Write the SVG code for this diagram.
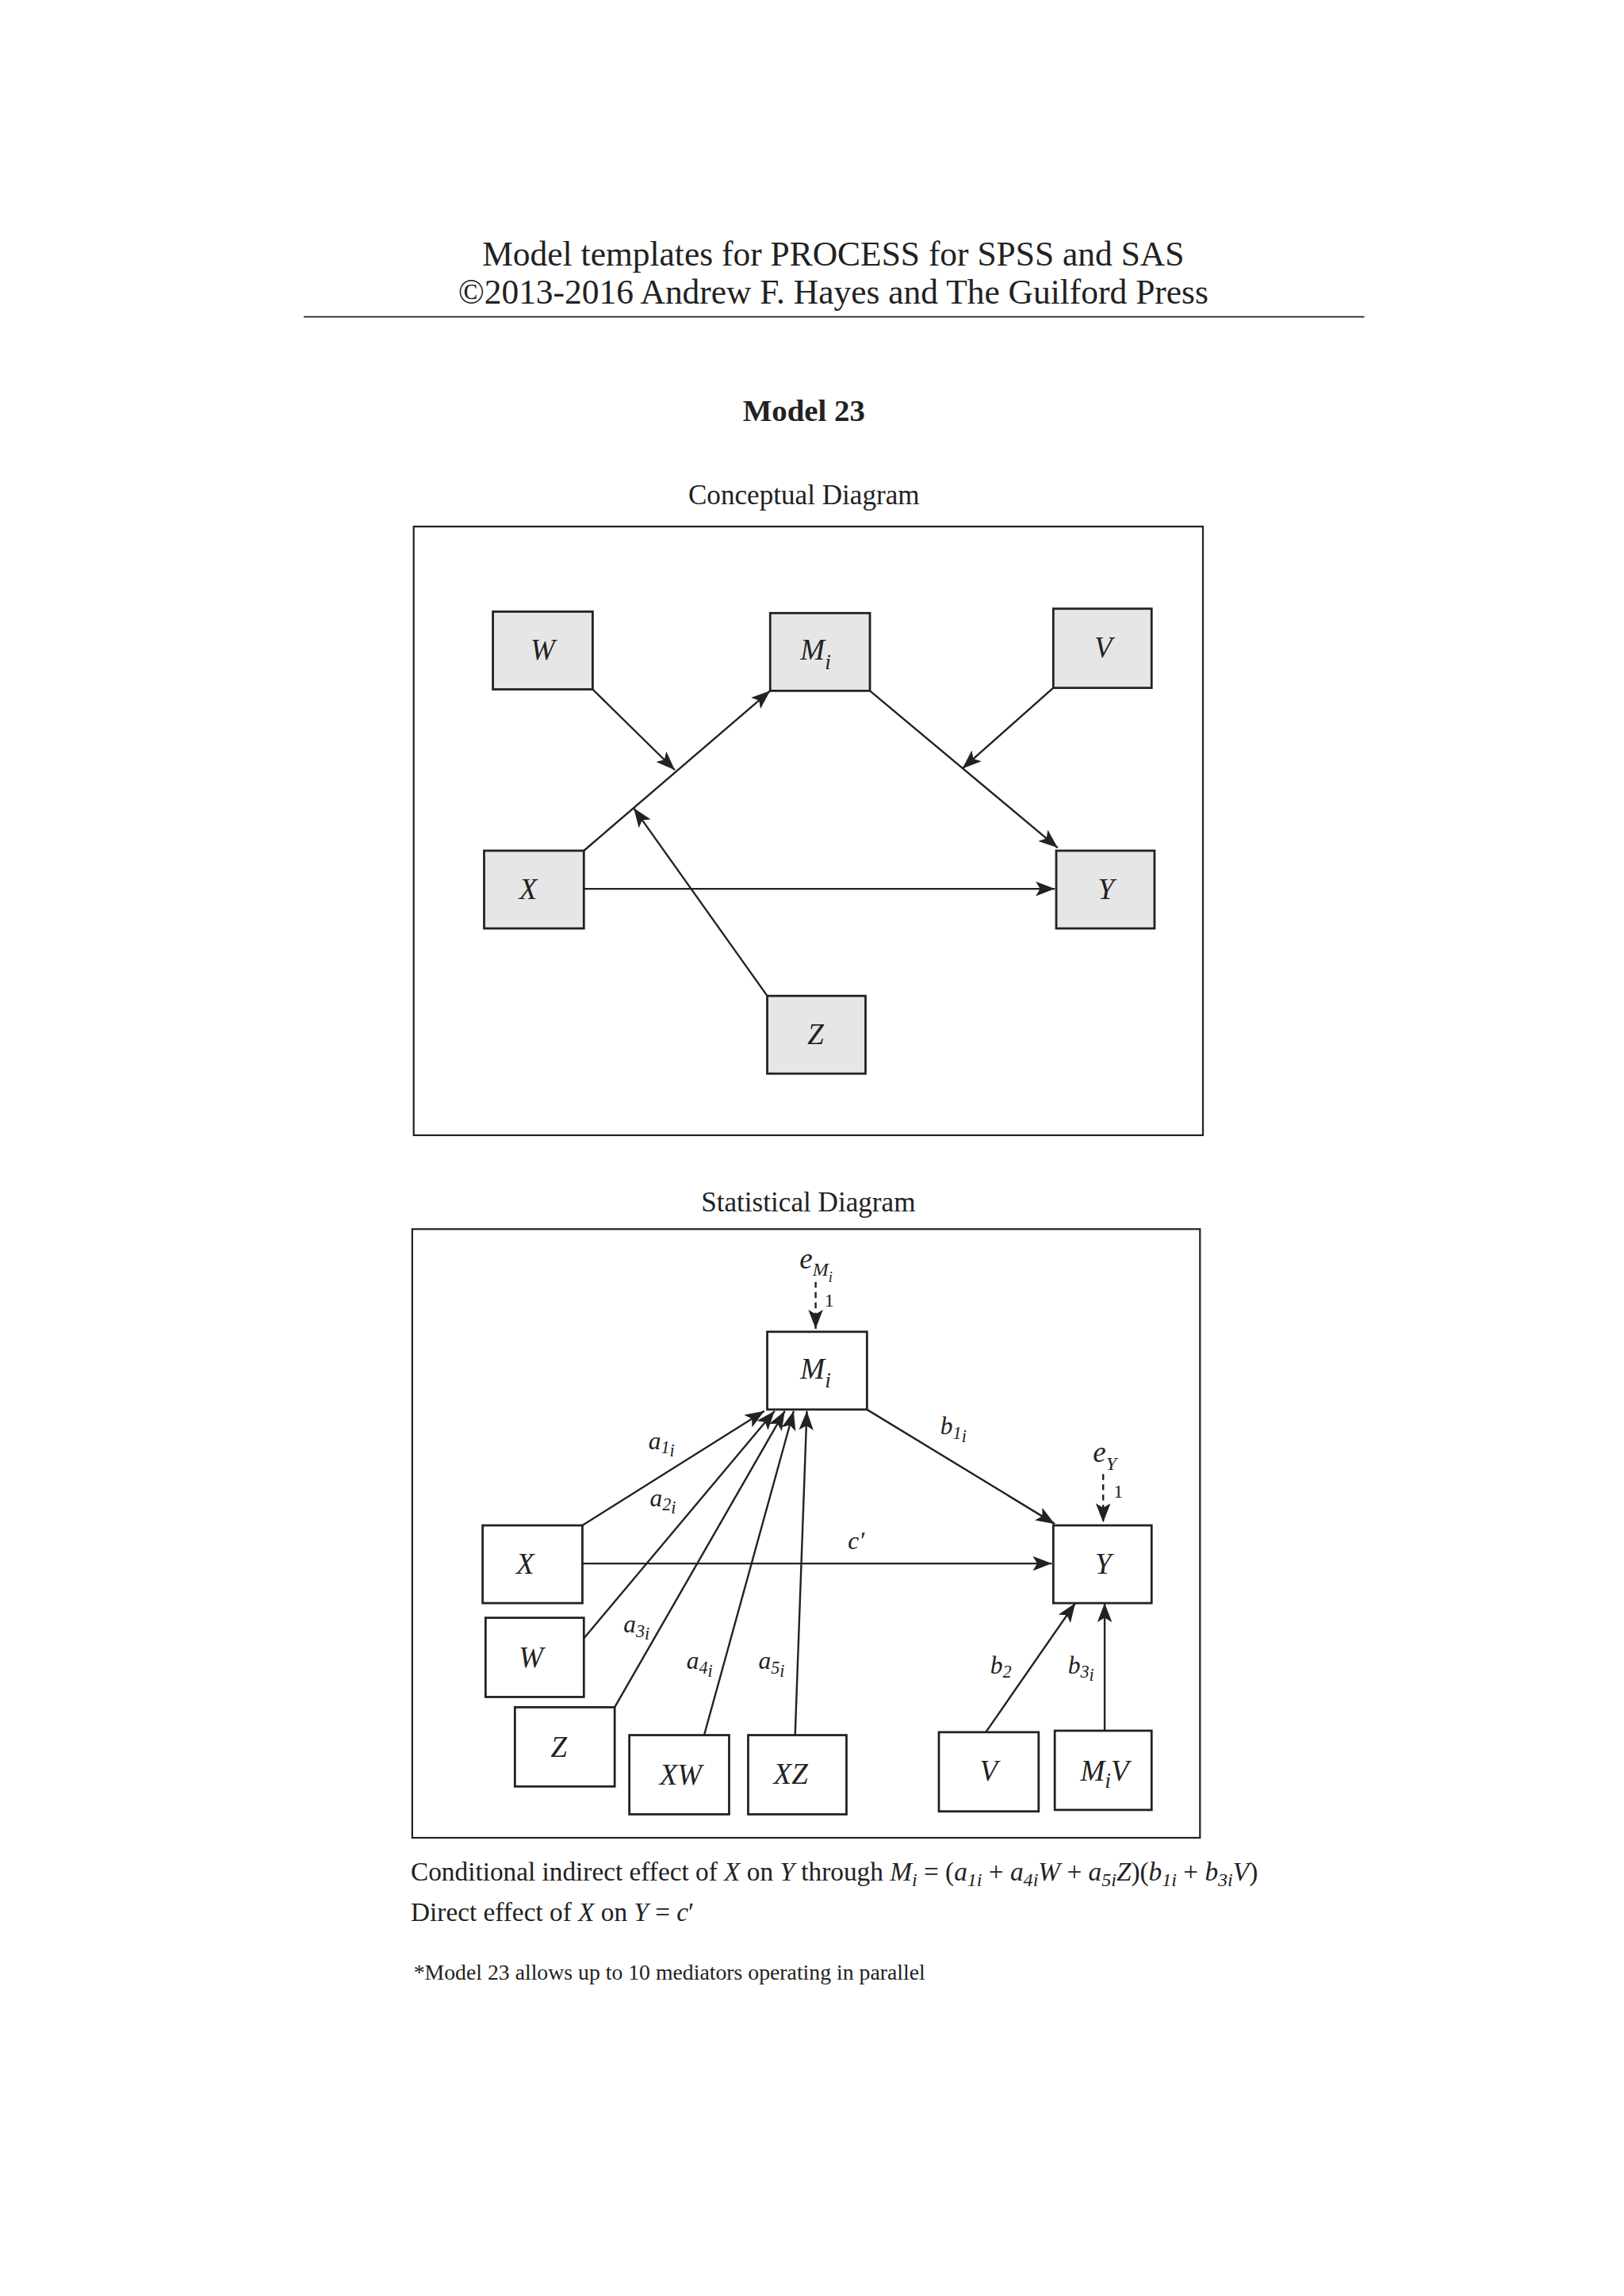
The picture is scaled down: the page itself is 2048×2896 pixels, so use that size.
<svg xmlns="http://www.w3.org/2000/svg" width="2048" height="2896" viewBox="0 0 2048 2896">
<style>
.t{font-family:"Liberation Serif",serif;font-style:normal;fill:#222}
.i{font-family:"Liberation Serif",serif;font-style:italic;fill:#222}
.bx{fill:#e6e6e6;stroke:#222;stroke-width:1.5}
.bw{fill:#fff;stroke:#222;stroke-width:1.5}
.ln{stroke:#222;stroke-width:1.3;fill:none}
.ds{stroke:#222;stroke-width:1.3;stroke-dasharray:4 3;fill:none}
</style>
<defs>
<marker id="ah" markerUnits="userSpaceOnUse" markerWidth="14" markerHeight="10" refX="13" refY="5" orient="auto">
<path d="M0,0 L13,5 L0,10 L3,5 Z" fill="#222"/>
</marker>
</defs>
<rect width="2048" height="2896" fill="#fff"/>
<g transform="scale(1.85)">
<text class="t" x="568" y="181" font-size="23.5" text-anchor="middle">Model templates for PROCESS for SPSS and SAS</text>
<text class="t" x="568" y="207" font-size="23.5" text-anchor="middle">©2013-2016 Andrew F. Hayes and The Guilford Press</text>
<line x1="207" y1="216" x2="930" y2="216" stroke="#222" stroke-width="1"/>
<text class="t" x="548" y="287" font-size="21" font-weight="bold" text-anchor="middle">Model 23</text>
<text class="t" x="548" y="344" font-size="19" text-anchor="middle">Conceptual Diagram</text>
<rect x="282" y="359" width="538" height="415" fill="none" stroke="#222" stroke-width="1.2"/>

<g id="connectors-conceptual">
<line class="ln" x1="398" y1="580" x2="525" y2="471" marker-end="url(#ah)"/>
<line class="ln" x1="404" y1="470" x2="460" y2="525" marker-end="url(#ah)"/>
<line class="ln" x1="718" y1="469" x2="656" y2="524" marker-end="url(#ah)"/>
<line class="ln" x1="593" y1="471" x2="721" y2="578" marker-end="url(#ah)"/>
<line class="ln" x1="398" y1="606" x2="719" y2="606" marker-end="url(#ah)"/>
<line class="ln" x1="523" y1="679" x2="432" y2="551" marker-end="url(#ah)"/>
</g>
<g id="c-W"><rect class="bx" x="336" y="417" width="68" height="53"/><text class="i" x="370" y="450" font-size="20" text-anchor="middle">W</text></g>
<g id="c-M"><rect class="bx" x="525" y="418" width="68" height="53"/><text class="i" x="556" y="450" font-size="20" text-anchor="middle">M<tspan font-size="15" dy="6">i</tspan></text></g>
<g id="c-V"><rect class="bx" x="718" y="415" width="67" height="54"/><text class="i" x="752" y="448" font-size="20" text-anchor="middle">V</text></g>
<g id="c-X"><rect class="bx" x="330" y="580" width="68" height="53"/><text class="i" x="360" y="613" font-size="20" text-anchor="middle">X</text></g>
<g id="c-Y"><rect class="bx" x="720" y="580" width="67" height="53"/><text class="i" x="754" y="613" font-size="20" text-anchor="middle">Y</text></g>
<g id="c-Z"><rect class="bx" x="523" y="679" width="67" height="53"/><text class="i" x="556" y="712" font-size="20" text-anchor="middle">Z</text></g>

<text class="t" x="551" y="826" font-size="19" text-anchor="middle">Statistical Diagram</text>
<rect x="281" y="838" width="537" height="415" fill="none" stroke="#222" stroke-width="1.2"/>

<g id="connectors-statistical">
<line class="ds" x1="556" y1="874" x2="556" y2="906" marker-end="url(#ah)"/>
<line class="ds" x1="752" y1="1005" x2="752" y2="1038" marker-end="url(#ah)"/>
<line class="ln" x1="397" y1="1040" x2="521" y2="962" marker-end="url(#ah)"/>
<line class="ln" x1="398" y1="1117" x2="528" y2="962" marker-end="url(#ah)"/>
<line class="ln" x1="419" y1="1164" x2="535" y2="962" marker-end="url(#ah)"/>
<line class="ln" x1="480" y1="1183" x2="541" y2="962" marker-end="url(#ah)"/>
<line class="ln" x1="542" y1="1183" x2="550" y2="962" marker-end="url(#ah)"/>
<line class="ln" x1="591" y1="961" x2="719" y2="1039" marker-end="url(#ah)"/>
<line class="ln" x1="397" y1="1066" x2="717" y2="1066" marker-end="url(#ah)"/>
<line class="ln" x1="672" y1="1181" x2="733" y2="1093" marker-end="url(#ah)"/>
<line class="ln" x1="753" y1="1180" x2="753" y2="1093" marker-end="url(#ah)"/>
</g>
<g id="labels" class="i" font-size="17">
<text x="545" y="865" font-size="20">e<tspan font-size="13" dy="5">M</tspan><tspan font-size="10" dy="4">i</tspan></text>
<text class="t" x="562" y="891" font-size="13">1</text>
<text x="745" y="997" font-size="20">e<tspan font-size="13" dy="5">Y</tspan></text>
<text class="t" x="759" y="1021" font-size="13">1</text>
<text x="442" y="988">a<tspan font-size="12" dy="3">1</tspan><tspan font-size="12" dy="2">i</tspan></text>
<text x="443" y="1027">a<tspan font-size="12" dy="3">2</tspan><tspan font-size="12" dy="2">i</tspan></text>
<text x="425" y="1113">a<tspan font-size="12" dy="3">3</tspan><tspan font-size="12" dy="2">i</tspan></text>
<text x="468" y="1138">a<tspan font-size="12" dy="3">4</tspan><tspan font-size="12" dy="2">i</tspan></text>
<text x="517" y="1138">a<tspan font-size="12" dy="3">5</tspan><tspan font-size="12" dy="2">i</tspan></text>
<text x="641" y="978">b<tspan font-size="12" dy="3">1</tspan><tspan font-size="12" dy="2">i</tspan></text>
<text x="578" y="1056">c′</text>
<text x="675" y="1141">b<tspan font-size="12" dy="3">2</tspan></text>
<text x="728" y="1141">b<tspan font-size="12" dy="3">3</tspan><tspan font-size="12" dy="2">i</tspan></text>
</g>
<g id="s-M"><rect class="bw" x="523" y="908" width="68" height="53"/><text class="i" x="556" y="940" font-size="20" text-anchor="middle">M<tspan font-size="15" dy="6">i</tspan></text></g>
<g id="s-X"><rect class="bw" x="329" y="1040" width="68" height="53"/><text class="i" x="358" y="1073" font-size="20" text-anchor="middle">X</text></g>
<g id="s-W"><rect class="bw" x="331" y="1103" width="67" height="54"/><text class="i" x="362" y="1137" font-size="20" text-anchor="middle">W</text></g>
<g id="s-Z"><rect class="bw" x="351" y="1164" width="68" height="54"/><text class="i" x="381" y="1198" font-size="20" text-anchor="middle">Z</text></g>
<g id="s-XW"><rect class="bw" x="429" y="1183" width="68" height="54"/><text class="i" x="464" y="1217" font-size="20" text-anchor="middle">XW</text></g>
<g id="s-XZ"><rect class="bw" x="510" y="1183" width="67" height="54"/><text class="i" x="539" y="1216" font-size="20" text-anchor="middle">XZ</text></g>
<g id="s-V"><rect class="bw" x="640" y="1181" width="68" height="54"/><text class="i" x="674" y="1214" font-size="20" text-anchor="middle">V</text></g>
<g id="s-MV"><rect class="bw" x="719" y="1180" width="66" height="54"/><text class="i" x="753" y="1214" font-size="20" text-anchor="middle">M<tspan font-size="15" dy="5">i</tspan><tspan dy="-5">V</tspan></text></g>
<g id="s-Y"><rect class="bw" x="718" y="1040" width="67" height="53"/><text class="i" x="752" y="1073" font-size="20" text-anchor="middle">Y</text></g>

<text class="t" x="280" y="1282" font-size="18">Conditional indirect effect of <tspan font-style="italic">X</tspan> on <tspan font-style="italic">Y</tspan> through <tspan font-style="italic">M<tspan font-size="13" dy="4">i</tspan></tspan><tspan dy="-4"> = (</tspan><tspan font-style="italic">a<tspan font-size="13" dy="4">1i</tspan></tspan><tspan dy="-4"> + </tspan><tspan font-style="italic">a<tspan font-size="13" dy="4">4i</tspan><tspan dy="-4">W</tspan></tspan> + <tspan font-style="italic">a<tspan font-size="13" dy="4">5i</tspan><tspan dy="-4">Z</tspan></tspan>)(<tspan font-style="italic">b<tspan font-size="13" dy="4">1i</tspan></tspan><tspan dy="-4"> + </tspan><tspan font-style="italic">b<tspan font-size="13" dy="4">3i</tspan><tspan dy="-4">V</tspan></tspan>)</text>
<text class="t" x="280" y="1310" font-size="18">Direct effect of <tspan font-style="italic">X</tspan> on <tspan font-style="italic">Y</tspan> = <tspan font-style="italic">c</tspan>′</text>
<text class="t" x="282" y="1350" font-size="15">*Model 23 allows up to 10 mediators operating in parallel</text>
</g>
</svg>
